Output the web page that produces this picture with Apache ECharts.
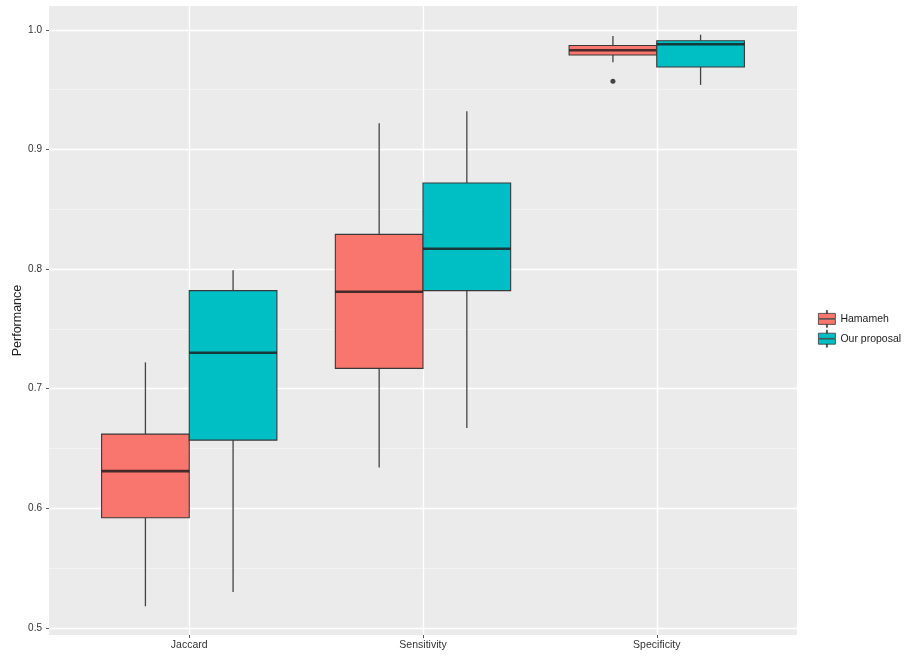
<!DOCTYPE html>
<html>
<head>
<meta charset="utf-8">
<script src="https://cdn.jsdelivr.net/npm/echarts@6/dist/echarts.min.js"></script>
<style>
  html, body { margin: 0; padding: 0; background: #ffffff; }
  #chart { width: 910px; height: 657px; }
</style>
</head>
<body>
<div id="chart"></div>
<script>
// Metrics on the x axis
const categories = ['Jaccard', 'Sensitivity', 'Specificity'];
const groupNames = ['Hamameh', 'Our proposal'];

// Five-number summaries per metric: [whisker low, Q1, median, Q3, whisker high]
const hamameh = [
  [0.518, 0.592, 0.631, 0.662, 0.722],
  [0.634, 0.717, 0.781, 0.829, 0.922],
  [0.973, 0.979, 0.983, 0.987, 0.995]
];
const ourProposal = [
  [0.530, 0.657, 0.730, 0.782, 0.799],
  [0.667, 0.782, 0.817, 0.872, 0.932],
  [0.954, 0.969, 0.988, 0.991, 0.996]
];

// Outlying points: [metric index, value]
const hamamehOutliers = [[2, 0.957]];
const ourProposalOutliers = [];

// Axis ticks and grid lines
const yTicks = [0.5, 0.6, 0.7, 0.8, 0.9, 1.0];
const yMinorTicks = [0.55, 0.65, 0.75, 0.85, 0.95];
const xTicks = [1, 2, 3];

const COLORS = ['#F8766D', '#00BFC4'];
const DODGE = 0.75;            // dodge width in category units
const BOX_W = DODGE / 2;       // width of each box
const OFFSETS = [-DODGE / 4, DODGE / 4];

function toRows(summary) {
  return summary.map((s, i) => [i].concat(s));
}

function makeRender(offset) {
  return function (params, api) {
    const xc = api.value(0) + 1 + offset;
    const lo = api.coord([xc, api.value(1)]);
    const q1 = api.coord([xc, api.value(2)]);
    const md = api.coord([xc, api.value(3)]);
    const q3 = api.coord([xc, api.value(4)]);
    const hi = api.coord([xc, api.value(5)]);
    const half = api.size([BOX_W, 0])[0] / 2;
    const fill = api.visual('color');
    const edge = '#383838';
    return {
      type: 'group',
      children: [
        { type: 'line', shape: { x1: hi[0], y1: hi[1], x2: q3[0], y2: q3[1] },
          style: { stroke: '#444444', lineWidth: 1.3 } },
        { type: 'line', shape: { x1: q1[0], y1: q1[1], x2: lo[0], y2: lo[1] },
          style: { stroke: '#444444', lineWidth: 1.3 } },
        { type: 'rect', shape: { x: q3[0] - half, y: q3[1], width: half * 2, height: q1[1] - q3[1] },
          style: { fill: fill, stroke: edge, lineWidth: 1.1 } },
        { type: 'line', shape: { x1: md[0] - half, y1: md[1], x2: md[0] + half, y2: md[1] },
          style: { stroke: 'rgba(25,25,25,0.8)', lineWidth: 2.6 } }
      ]
    };
  };
}

function outlierPoints(list, offset) {
  return list.map(p => [p[0] + 1 + offset, p[1]]);
}

const gridLines = []
  .concat(yMinorTicks.map(v => ({ yAxis: v, lineStyle: { color: '#f5f5f5', width: 0.8, type: 'solid' } })))
  .concat(yTicks.map(v => ({ yAxis: v, lineStyle: { color: '#ffffff', width: 1.4, type: 'solid' } })))
  .concat(xTicks.map(v => ({ xAxis: v, lineStyle: { color: '#ffffff', width: 1.4, type: 'solid' } })));

const FONT = "'Liberation Sans', Arial, Helvetica, sans-serif";

const chart = echarts.init(document.getElementById('chart'), null, { renderer: 'canvas' });

chart.setOption({
  animation: false,
  backgroundColor: '#ffffff',
  textStyle: { fontFamily: FONT },
  grid: {
    left: 49, right: 113, top: 6, bottom: 22,
    outerBoundsMode: 'none',
    containLabel: false,
    show: true, backgroundColor: '#ebebeb', borderWidth: 0
  },
  legend: {
    orient: 'vertical',
    left: 813, top: 305,
    itemWidth: 17, itemHeight: 17, itemGap: 2,
    icon: 'path://M8,0H9V3H8Z M0,3H17V8.2H0Z M0,8.8H17V14H0Z M8,14H9V17H8Z',
    itemStyle: { borderColor: '#383838', borderWidth: 0.8 },
    textStyle: { fontSize: 10.5, color: '#1a1a1a', fontFamily: FONT },
    data: groupNames
  },
  xAxis: {
    type: 'value',
    min: 0.4, max: 3.6,
    axisLine: { show: false },
    axisTick: { show: true, length: 3, lineStyle: { color: '#555' }, customValues: xTicks },
    splitLine: { show: false },
    axisLabel: {
      customValues: xTicks,
      margin: 5,
      fontSize: 10.5, color: '#333333', fontFamily: FONT,
      formatter: v => categories[Math.round(v) - 1] || ''
    }
  },
  yAxis: {
    type: 'value',
    min: 0.494, max: 1.02,
    name: 'Performance',
    nameLocation: 'middle',
    nameRotate: 90,
    nameMoveOverlap: false,
    nameGap: 25,
    nameTextStyle: { fontSize: 12.5, color: '#222', fontFamily: FONT },
    axisLine: { show: false },
    axisTick: { show: true, length: 3, lineStyle: { color: '#555' }, customValues: yTicks },
    splitLine: { show: false },
    axisLabel: {
      customValues: yTicks,
      margin: 7,
      fontSize: 10, color: '#333333', fontFamily: FONT,
      formatter: v => v.toFixed(1)
    }
  },
  series: [
    {
      type: 'line',
      data: [],
      silent: true,
      z: 1,
      markLine: {
        silent: true,
        symbol: 'none',
        z: 1,
        label: { show: false },
        emphasis: { disabled: true },
        data: gridLines
      }
    },
    {
      name: groupNames[0],
      type: 'custom',
      z: 3,
      itemStyle: { color: COLORS[0] },
      renderItem: makeRender(OFFSETS[0]),
      encode: { x: 0, y: [1, 2, 3, 4, 5] },
      data: toRows(hamameh)
    },
    {
      name: groupNames[1],
      type: 'custom',
      z: 3,
      itemStyle: { color: COLORS[1] },
      renderItem: makeRender(OFFSETS[1]),
      encode: { x: 0, y: [1, 2, 3, 4, 5] },
      data: toRows(ourProposal)
    },
    {
      type: 'scatter',
      z: 4,
      symbolSize: 5,
      itemStyle: { color: '#1a1a1a' },
      data: outlierPoints(hamamehOutliers, OFFSETS[0]).concat(outlierPoints(ourProposalOutliers, OFFSETS[1]))
    }
  ]
});
</script>
</body>
</html>
